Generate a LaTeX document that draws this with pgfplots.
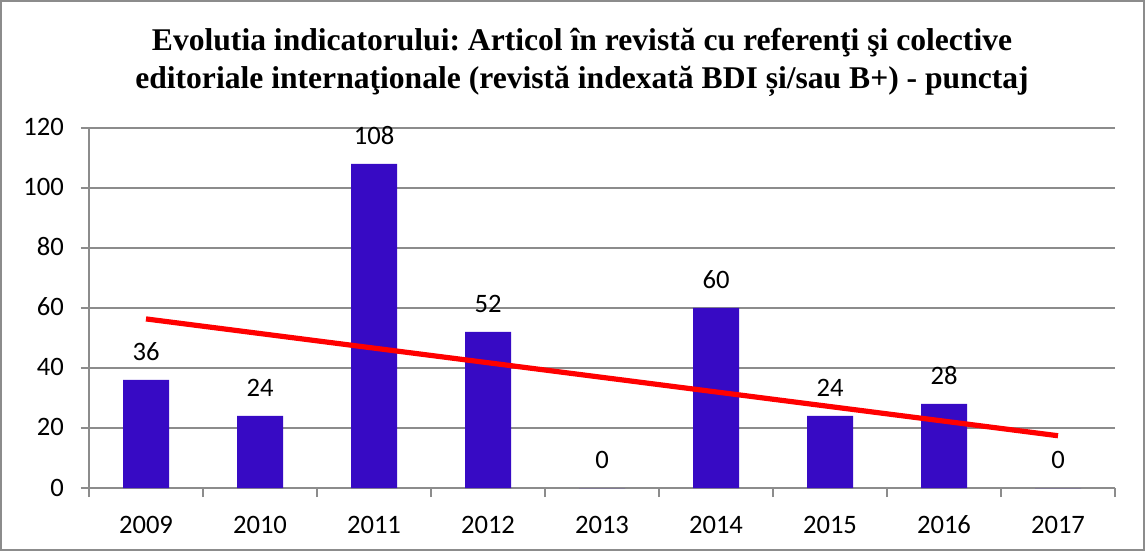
\documentclass[border=0pt]{standalone}
\usepackage{pgfplots}
\pgfplotsset{compat=1.18}
\usepackage{fontspec}
\setmainfont{Carlito}
\newfontfamily\titlefont{Liberation Serif}
\definecolor{barcol}{HTML}{370AC4}
\definecolor{gridcol}{HTML}{8C8C8C}
\frenchspacing
\begin{document}
\begin{tikzpicture}[x=1pt,y=1pt]
\useasboundingbox (0,0) rectangle (572.5,275.5);
\draw[gridcol, line width=0.8pt] (0.6,0.6) rectangle (571.9,274.9);
\node[align=center, font=\titlefont\bfseries\fontsize{15.8}{19}\selectfont] at (291,244.5)
  {Evolutia indicatorului: Articol în revistă cu referenţi şi colective\\
   editoriale internaţionale (revistă indexată BDI și/sau B+) - punctaj};
\begin{axis}[
  at={(44.5pt,31.5pt)}, anchor=origin,
  scale only axis, width=513pt, height=180pt,
  xmin=0.5, xmax=9.5, ymin=0, ymax=120,
  ytick={0,20,...,120},
  xtick={1,...,9},
  xticklabels={2009,2010,2011,2012,2013,2014,2015,2016,2017},
  minor xtick={0.5,1.5,...,9.5},
  axis x line*=bottom, axis y line*=left,
  axis line style={gridcol, line width=0.8pt, -},
  ymajorgrids, grid style={gridcol, line width=0.8pt},
  major x tick style={draw=none},
  minor x tick style={gridcol, line width=0.8pt},
  major y tick style={gridcol, line width=0.8pt},
  tick align=outside, major tick length=4pt, minor tick length=4.5pt,
  ticklabel style={font=\fontsize{13.3}{16}\selectfont, text height=9pt, text depth=1pt},
  /pgf/number format/assume math mode=true,
  yticklabel style={xshift=-5pt},
  xticklabel style={yshift=-6pt},
  clip=false,
]
\addplot[ybar, bar width=23pt, fill=barcol, draw=none,
  nodes near coords,
  every node near coord/.append style={anchor=center, yshift=13.5pt,
    font=\fontsize{13.3}{16}\selectfont, black, text height=9pt, text depth=1pt},
] coordinates {
  (1,36) (2,24) (3,108) (4,52) (5,0) (6,60) (7,24) (8,28) (9,0)};
\addplot[red, line width=2.6pt] coordinates {(1,56.36) (9,17.42)};
\end{axis}
\end{tikzpicture}
\end{document}
